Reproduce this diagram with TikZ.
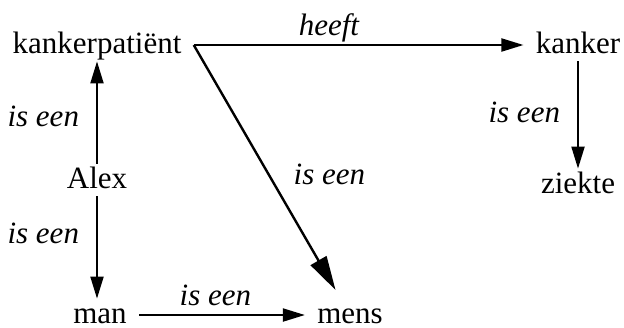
\documentclass[tikz,border=0pt]{standalone}
\usepackage{fontspec}
\setmainfont{Liberation Serif}
\usetikzlibrary{arrows.meta}
\begin{document}
\begin{tikzpicture}[
        x=0.5pt, y=-0.5pt,
        term/.style={inner xsep=6pt, inner ysep=4pt, text height=8pt, text depth=0pt, anchor=base, font=\fontsize{15.5}{18}\selectfont},
        rel/.style={inner sep=0pt, font=\fontsize{15.5}{18}\selectfont\itshape},
        arrow/.style={-{Triangle[length=11pt,width=6.5pt]}, line width=1pt},
        bigarrow/.style={-{Triangle[length=17pt,width=9pt]}, line width=1.2pt}
    ]
        \useasboundingbox (0,0) rectangle (624,327);

        \node[term] (Patient) at (97,53) {kankerpatiënt};
        \node[term] (Kanker) at (578,53) {kanker};
        \node[term] (Ziekte) at (578,193) {ziekte};
        \node[term] (Alex) at (97,188) {Alex};
        \node[term] (Man) at (100,323) {man};
        \node[term] (Mens) at (350,323) {mens};

        \draw[arrow] (Patient.east) -- node[rel, pos=.41, anchor=base, yshift=5pt] {heeft} (Kanker.west);
        \draw[arrow] (Kanker.south) -- node[rel, pos=.57, anchor=base east, xshift=-8.5pt] {is een} (Ziekte.north);
        \draw[arrow] (Alex.north) -- node[rel, pos=.36, anchor=base east, xshift=-8.5pt] {is een} (Patient.south);
        \draw[arrow] (Alex.south) -- node[rel, pos=.46, anchor=base east, xshift=-8.5pt] {is een} (Alex.south |- Man.north);
        \draw[arrow] (Man.east) -- node[rel, pos=.46, anchor=base, yshift=5pt] {is een} (Mens.west);
        \draw[bigarrow, shorten >=5pt] (Patient.east) -- node[rel, pos=.55, anchor=base west, xshift=9pt] {is een} (Mens);
    \end{tikzpicture}
\end{document}
